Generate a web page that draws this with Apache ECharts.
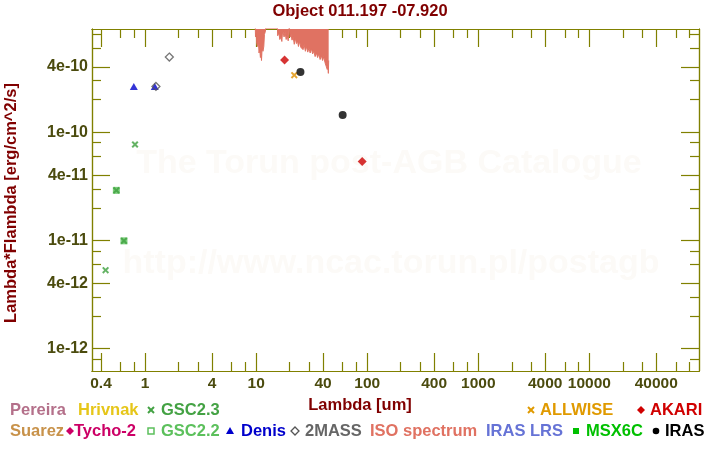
<!DOCTYPE html>
<html><head><meta charset="utf-8">
<script src="https://cdn.jsdelivr.net/npm/echarts@6/dist/echarts.min.js"></script>
<style>html,body{margin:0;padding:0;background:#fff}#c{width:720px;height:450px}</style>
</head><body><div id="c"></div>
<script>
// ---- data ----
const xMajorTicks = [0.4, 1, 4, 10, 40, 100, 400, 1000, 4000, 10000, 40000];
const xMinorTicks = [0.6, 0.8, 2, 3, 6, 8, 20, 30, 60, 80, 200, 300, 600, 800, 2000, 3000, 6000, 8000, 20000, 30000, 60000, 80000];
const yMajorTicks = [1e-12, 4e-12, 1e-11, 4e-11, 1e-10, 4e-10];
const yMinorTicks = [8e-13, 2e-12, 3e-12, 6e-12, 8e-12, 2e-11, 3e-11, 6e-11, 8e-11, 2e-10, 3e-10, 6e-10, 8e-10];

const gsc23 = [[0.44, 5.3e-12], [0.55, 2.9e-11], [0.644, 9.9e-12], [0.81, 7.7e-11]];
const gsc22 = [[0.55, 2.9e-11], [0.644, 9.9e-12]];
const denis = [[0.79, 2.65e-10], [1.22, 2.65e-10]];
const twoMass = [[1.25, 2.65e-10], [1.65, 4.95e-10]];
const akari = [[18, 4.65e-10], [90, 5.35e-11]];
const allwise = [[22, 3.37e-10]];
const iras = [[25, 3.6e-10], [60, 1.44e-10]];

const isoWave = [9.75, 9.85, 10.0, 10.1, 10.3, 10.45, 10.6, 10.75, 10.9, 11.05,
  11.15, 11.3, 11.5, 11.7, 11.85, 12.1, 12.3, 13.5, 15.4, 15.6,
  16.0, 16.3, 16.7, 17.0, 17.3, 17.8, 18.2, 18.6, 19.0, 19.4,
  19.8, 20.2, 20.6, 21.0, 21.5, 22.0, 22.5, 23.0, 23.5, 24.0,
  24.6, 25.2, 25.8, 26.4, 27.0, 27.7, 28.4, 29.1, 29.8, 30.6,
  31.4, 32.2, 33.0, 33.9, 34.8, 35.7, 36.6, 37.6, 38.6, 39.6,
  40.6, 41.6, 42.7, 43.6, 44.2, 44.6, 44.9];
const isoFlux = [1.2e-9, 7.6e-10, 8.2e-10, 6.6e-10, 6.2e-10, 7.0e-10, 5.4e-10, 5.9e-10, 4.9e-10, 5.3e-10,
  4.6e-10, 6.0e-10, 5.6e-10, 6.2e-10, 8.0e-10, 8.6e-10, 1.2e-9, 1.5e-9, 1.2e-9, 7.8e-10,
  8.3e-10, 7.2e-10, 7.6e-10, 6.9e-10, 8.8e-10, 7.6e-10, 8.4e-10, 7.2e-10, 7.9e-10, 7.0e-10,
  9.5e-10, 7.6e-10, 8.0e-10, 7.1e-10, 7.6e-10, 6.5e-10, 7.4e-10, 6.6e-10, 7.0e-10, 6.2e-10,
  6.9e-10, 6.1e-10, 6.3e-10, 5.8e-10, 6.5e-10, 5.6e-10, 6.2e-10, 5.5e-10, 6.0e-10, 5.4e-10,
  5.9e-10, 5.3e-10, 5.6e-10, 5.0e-10, 5.4e-10, 4.9e-10, 5.3e-10, 4.7e-10, 5.1e-10, 4.6e-10,
  5.0e-10, 4.4e-10, 4.3e-10, 3.8e-10, 4.1e-10, 3.5e-10, 4.6e-10];

const titleText = 'Object 011.197 -07.920';
const xTitle = 'Lambda [um]';
const yTitle = 'Lambda*Flambda [erg/cm^2/s]';
const wm1 = 'The Torun post-AGB Catalogue';
const wm2 = 'http://www.ncac.torun.pl/postagb';

// ---- layout / style ----
const XMIN = 0.332, XMAX = 97000, YMIN = 6.2e-13, YMAX = 9e-10;
const FONT = '"Liberation Sans", Arial, Helvetica, sans-serif';
const AX = '#808000', LAB = '#4b4b0e', DARKRED = '#800000';
const ISO = '#e07262';
const XPATH = 'path://M0,2L2,0L5,3L8,0L10,2L7,5L10,8L8,10L5,7L2,10L0,8L3,5Z';

function fmtX(v) { return String(+v.toPrecision(6)); }
function fmtY(v) {
  const e = Math.floor(Math.log10(v) + 1e-9);
  const m = Math.round(v / Math.pow(10, e));
  return m + 'e' + e;
}
function xAxisDef(pos, ticks, len, labels) {
  return {
    type: 'log', logBase: 10, min: XMIN, max: XMAX, position: pos, gridIndex: 0,
    axisLine: { show: true, lineStyle: { color: AX, width: 1.2 } },
    axisTick: { show: true, inside: true, length: len, customValues: ticks, lineStyle: { color: AX, width: 1.2 } },
    axisLabel: labels ? { show: true, customValues: ticks, formatter: fmtX, color: LAB, fontWeight: 'bold', fontSize: 15.5, fontFamily: FONT, margin: 5 } : { show: false },
    splitLine: { show: false }, minorTick: { show: false }
  };
}
function yAxisDef(pos, ticks, len, labels) {
  return {
    type: 'log', logBase: 10, min: YMIN, max: YMAX, position: pos, gridIndex: 0,
    axisLine: { show: true, lineStyle: { color: AX, width: 1.2 } },
    axisTick: { show: true, inside: true, length: len, customValues: ticks, lineStyle: { color: AX, width: 1.2 } },
    axisLabel: labels ? { show: true, customValues: ticks, formatter: fmtY, color: LAB, fontWeight: 'bold', fontSize: 16, fontFamily: FONT, margin: 4 } : { show: false },
    splitLine: { show: false }, minorTick: { show: false }
  };
}

const graphics = [];
function txt(text, x, y, color, size, opts) {
  graphics.push(Object.assign({
    type: 'text', z: 10,
    style: { text: text, x: x, y: y, fill: color, font: 'bold ' + size + 'px ' + FONT, align: 'left', verticalAlign: 'middle' }
  }, opts || {}));
}
function poly(points, style) { graphics.push({ type: 'polygon', z: 10, shape: { points: points }, style: style }); }
function symX(cx, cy, c) {
  const s = 3;
  graphics.push({ type: 'line', z: 10, shape: { x1: cx - s, y1: cy - s, x2: cx + s, y2: cy + s }, style: { stroke: c, lineWidth: 2 } });
  graphics.push({ type: 'line', z: 10, shape: { x1: cx - s, y1: cy + s, x2: cx + s, y2: cy - s }, style: { stroke: c, lineWidth: 2 } });
}
function symDiamond(cx, cy, c, hollow) {
  const r = 4;
  poly([[cx, cy - r], [cx + r, cy], [cx, cy + r], [cx - r, cy]], hollow ? { fill: 'none', stroke: c, lineWidth: 1.3 } : { fill: c });
}
function symTri(cx, cy, c) { poly([[cx, cy - 4], [cx + 4, cy + 3], [cx - 4, cy + 3]], { fill: c }); }
function symRect(cx, cy, c, hollow) {
  graphics.push({ type: 'rect', z: 10, shape: { x: cx - 3, y: cy - 3, width: 6, height: 6 }, style: hollow ? { fill: 'none', stroke: c, lineWidth: 1.5 } : { fill: c } });
}
function symCircle(cx, cy, c) { graphics.push({ type: 'circle', z: 10, shape: { cx: cx, cy: cy, r: 3.3 }, style: { fill: c } }); }

// watermark
graphics.push({ type: 'text', z: 0, style: { text: wm1, x: 389, y: 164, fill: '#fcfaf7', font: 'bold 34px ' + FONT, align: 'center', verticalAlign: 'middle' } });
graphics.push({ type: 'text', z: 0, style: { text: wm2, x: 391, y: 264, fill: '#fcfaf7', font: 'bold 34px ' + FONT, align: 'center', verticalAlign: 'middle' } });
// titles
graphics.push({ type: 'text', z: 10, style: { text: titleText, x: 360, y: 11, fill: DARKRED, font: 'bold 16.5px ' + FONT, align: 'center', verticalAlign: 'middle' } });
graphics.push({ type: 'text', z: 10, style: { text: xTitle, x: 360, y: 405, fill: DARKRED, font: 'bold 16.5px ' + FONT, align: 'center', verticalAlign: 'middle' } });
graphics.push({ type: 'text', z: 10, rotation: Math.PI / 2, x: 11, y: 203, style: { text: yTitle, x: 0, y: 0, fill: DARKRED, font: 'bold 16.5px ' + FONT, align: 'center', verticalAlign: 'middle' } });

// legend row 1
const R1 = 410, R2 = 431, LS = 16.5;
txt('Pereira', 10, R1, '#b4708a', LS);
txt('Hrivnak', 78, R1, '#e6c619', LS);
symX(151, R1, '#44a244'); txt('GSC2.3', 161, R1, '#44a244', LS);
symX(531, R1, '#e09a00'); txt('ALLWISE', 540, R1, '#e09a00', LS);
symDiamond(641, R1, '#d00000'); txt('AKARI', 650, R1, '#d00000', LS);
// legend row 2
txt('Suarez', 10, R2, '#c8924a', LS);
symDiamond(70, R2, '#cc0066'); txt('Tycho-2', 74, R2, '#cc0066', LS);
symRect(151, R2, '#5cc05c', true); txt('GSC2.2', 161, R2, '#5cc05c', LS);
symTri(230, R2, '#0000cc'); txt('Denis', 241, R2, '#0000cc', LS);
symDiamond(295, R2, '#555555', true); txt('2MASS', 305, R2, '#666666', LS);
txt('ISO spectrum', 370, R2, '#e07262', LS);
txt('IRAS LRS', 486, R2, '#6673d6', LS);
symRect(576, R2, '#00c000'); txt('MSX6C', 586, R2, '#00c000', LS);
symCircle(656, R2, '#000000'); txt('IRAS', 665, R2, '#000000', LS);

const chart = echarts.init(document.getElementById('c'), null, { renderer: 'canvas' });
chart.setOption({
  animation: false,
  backgroundColor: '#ffffff',
  grid: { left: 92, top: 29, right: 21, bottom: 79, containLabel: false },
  xAxis: [
    xAxisDef('bottom', xMajorTicks, 18, true),
    xAxisDef('bottom', xMinorTicks, 9, false),
    xAxisDef('top', xMajorTicks, 18, false),
    xAxisDef('top', xMinorTicks, 9, false)
  ],
  yAxis: [
    yAxisDef('left', yMajorTicks, 18, true),
    yAxisDef('left', yMinorTicks, 9, false),
    yAxisDef('right', yMajorTicks, 18, false),
    yAxisDef('right', yMinorTicks, 9, false)
  ],
  graphic: graphics,
  series: [
    {
      name: 'ISO spectrum', type: 'line', xAxisIndex: 0, yAxisIndex: 0,
      data: isoWave.map((w, i) => [w, isoFlux[i]]),
      showSymbol: false, symbol: 'none', clip: true,
      lineStyle: { color: ISO, width: 1 },
      areaStyle: { origin: 'end', color: ISO, opacity: 1 }, z: 2
    },
    { name: 'GSC2.2', type: 'scatter', data: gsc22, symbol: 'rect', symbolSize: 7, itemStyle: { color: '#5cc05c' }, z: 3 },
    { name: 'GSC2.3', type: 'scatter', data: gsc23, symbol: XPATH, symbolSize: 7, itemStyle: { color: '#3fa03f' }, z: 4 },
    { name: 'Denis', type: 'scatter', data: denis, symbol: 'triangle', symbolSize: [8, 7], itemStyle: { color: '#0000cc' }, z: 4 },
    { name: '2MASS', type: 'scatter', data: twoMass, symbol: 'diamond', symbolSize: [8, 8], itemStyle: { color: 'rgba(0,0,0,0)', borderColor: '#555555', borderWidth: 1.3 }, z: 5 },
    { name: 'AKARI', type: 'scatter', data: akari, symbol: 'diamond', symbolSize: [9, 9], itemStyle: { color: '#cc0000' }, z: 4 },
    { name: 'ALLWISE', type: 'scatter', data: allwise, symbol: XPATH, symbolSize: 7, itemStyle: { color: '#e09000' }, z: 4 },
    { name: 'IRAS', type: 'scatter', data: iras, symbol: 'circle', symbolSize: 8, itemStyle: { color: '#000000' }, z: 4 }
  ]
});
</script></body></html>
